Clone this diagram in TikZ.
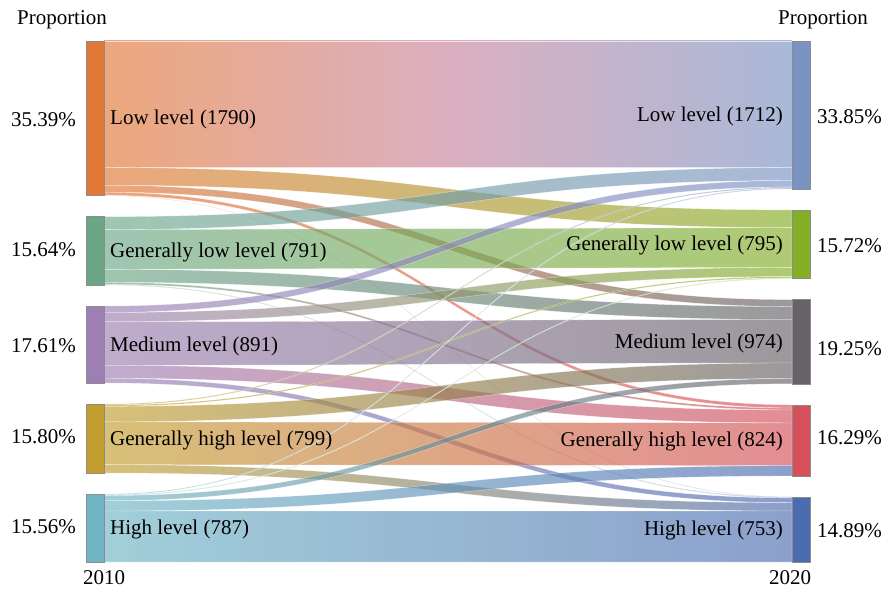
\documentclass[tikz,border=0pt]{standalone}
\usepackage{fontspec}
\setmainfont{Liberation Serif}
\definecolor{cLa}{HTML}{E27836}
\definecolor{cGLa}{HTML}{6BA787}
\definecolor{cMa}{HTML}{9D7FB3}
\definecolor{cGHa}{HTML}{C29E2E}
\definecolor{cHa}{HTML}{6FB5C4}
\definecolor{cLb}{HTML}{7A93C3}
\definecolor{cGLb}{HTML}{84AE26}
\definecolor{cMb}{HTML}{666267}
\definecolor{cGHb}{HTML}{D5505A}
\definecolor{cHb}{HTML}{4D6CB0}
\definecolor{cLmid}{HTML}{C8849E}
\newcommand{\flowband}[6]{%
  \shadedraw[flowsty, left color=#5, right color=#6]
    (104,#1) .. controls (448,#1) and (448,#3) .. (792,#3)
    -- (792,#4) .. controls (448,#4) and (448,#2) .. (104,#2) -- cycle;}
\newcommand{\flowbandmid}[7]{%
  \shadedraw[flowsty, left color=#5, right color=#6, middle color=#7]
    (104,#1) .. controls (448,#1) and (448,#3) .. (792,#3)
    -- (792,#4) .. controls (448,#4) and (448,#2) .. (104,#2) -- cycle;}
\begin{document}
\begin{tikzpicture}[x=1pt,y=-1pt,
  flowsty/.style={opacity=0.65, draw=white, line width=0.3pt},
  barsty/.style={draw=black!45, line width=0.4pt, inner sep=0pt, outer sep=0pt, anchor=north west},
  txt/.style={font=\fontsize{21}{25}\selectfont, inner sep=0pt, text=black}]
\useasboundingbox (0,0) rectangle (886,591);
% flows from Low level
\flowbandmid{41}{167.58}{41}{167.58}{cLa}{cLb}{cLmid}
\flowband{167.58}{185.29}{209.92}{227.63}{cLa}{cGLb}
\flowband{185.29}{192.20}{299.61}{306.52}{cLa}{cMb}
\flowband{192.20}{195.40}{404.76}{407.96}{cLa}{cGHb}
\flowband{195.40}{195.66}{496.95}{497.21}{cLa}{cHb}
% flows from Generally low level
\flowband{216.66}{229.62}{167.58}{180.54}{cGLa}{cLb}
\flowband{229.62}{269.36}{227.63}{267.37}{cGLa}{cGLb}
\flowband{269.36}{282.32}{306.52}{319.48}{cGLa}{cMb}
\flowband{282.32}{284.31}{407.96}{409.95}{cGLa}{cGHb}
\flowband{284.31}{285.00}{497.21}{497.90}{cGLa}{cHb}
% flows from Medium level
\flowband{306.00}{312.48}{180.54}{187.02}{cMa}{cLb}
\flowband{312.48}{321.72}{267.37}{276.61}{cMa}{cGLb}
\flowband{321.72}{365.27}{319.48}{363.03}{cMa}{cMb}
\flowband{365.27}{378.23}{409.95}{422.91}{cMa}{cGHb}
\flowband{378.23}{382.98}{497.90}{502.65}{cMa}{cHb}
% flows from Generally high level
\flowband{403.98}{405.02}{187.02}{188.06}{cGHa}{cLb}
\flowband{405.02}{406.32}{276.61}{277.91}{cGHa}{cGLb}
\flowband{406.32}{421.87}{363.03}{378.58}{cGHa}{cMb}
\flowband{421.87}{464.64}{422.91}{465.68}{cGHa}{cGHb}
\flowband{464.64}{473.02}{502.65}{511.03}{cGHa}{cHb}
% flows from High level
\flowband{494.01}{494.87}{188.06}{188.92}{cHa}{cLb}
\flowband{494.87}{495.56}{277.91}{278.60}{cHa}{cGLb}
\flowband{495.56}{500.74}{378.58}{383.76}{cHa}{cMb}
\flowband{500.74}{511.02}{465.68}{475.96}{cHa}{cHb}
\flowband{511.02}{562.00}{511.03}{562.00}{cHa}{cHb}
% bars 2010
\node[barsty, fill=cLa,  minimum width=18pt, minimum height=154.66pt] (L1)  at (86,41) {};
\node[barsty, fill=cGLa, minimum width=18pt, minimum height=68.34pt]  (GL1) at (86,216.66) {};
\node[barsty, fill=cMa,  minimum width=18pt, minimum height=76.98pt]  (M1)  at (86,306.00) {};
\node[barsty, fill=cGHa, minimum width=18pt, minimum height=69.03pt]  (GH1) at (86,403.98) {};
\node[barsty, fill=cHa,  minimum width=18pt, minimum height=67.99pt]  (H1)  at (86,494.01) {};
% bars 2020
\node[barsty, fill=cLb,  minimum width=18.5pt, minimum height=147.92pt] (L2)  at (792,41) {};
\node[barsty, fill=cGLb, minimum width=18.5pt, minimum height=68.69pt]  (GL2) at (792,209.92) {};
\node[barsty, fill=cMb,  minimum width=18.5pt, minimum height=84.15pt]  (M2)  at (792,299.61) {};
\node[barsty, fill=cGHb, minimum width=18.5pt, minimum height=71.20pt]  (GH2) at (792,404.76) {};
\node[barsty, fill=cHb,  minimum width=18.5pt, minimum height=65.05pt]  (H2)  at (792,496.95) {};
% labels 2010
\node[txt, anchor=west] (tL1)  at ([xshift=6pt,yshift=-1.5pt]L1.east)  {Low level (1790)};
\node[txt, anchor=west] (tGL1) at ([xshift=6pt,yshift=-1.5pt]GL1.east) {Generally low level (791)};
\node[txt, anchor=west] (tM1)  at ([xshift=6pt,yshift=-1.5pt]M1.east)  {Medium level (891)};
\node[txt, anchor=west] (tGH1) at ([xshift=6pt,yshift=-1.5pt]GH1.east) {Generally high level (799)};
\node[txt, anchor=west] (tH1)  at ([xshift=6pt,yshift=-1.5pt]H1.east)  {High level (787)};
% labels 2020
\node[txt, anchor=east] (tL2)  at ([xshift=-9pt,yshift=-1.5pt]L2.west)  {Low level (1712)};
\node[txt, anchor=east] (tGL2) at ([xshift=-9pt,yshift=-1.5pt]GL2.west) {Generally low level (795)};
\node[txt, anchor=east] (tM2)  at ([xshift=-9pt,yshift=-1.5pt]M2.west)  {Medium level (974)};
\node[txt, anchor=east] (tGH2) at ([xshift=-9pt,yshift=-1.5pt]GH2.west) {Generally high level (824)};
\node[txt, anchor=east] (tH2)  at ([xshift=-9pt,yshift=-1.5pt]H2.west)  {High level (753)};
% percentages 2010
\node[txt, anchor=east] (pL1)  at ([xshift=-10pt,yshift=-1.5pt]L1.west)  {35.39\%};
\node[txt, anchor=east] (pGL1) at ([xshift=-10pt,yshift=1pt]GL1.west) {15.64\%};
\node[txt, anchor=east] (pM1)  at ([xshift=-10pt,yshift=-1.5pt]M1.west)  {17.61\%};
\node[txt, anchor=east] (pGH1) at ([xshift=-10pt,yshift=2pt]GH1.west) {15.80\%};
\node[txt, anchor=east] (pH1)  at ([xshift=-10pt,yshift=1.5pt]H1.west)  {15.56\%};
% percentages 2020
\node[txt, anchor=west] (pL2)  at ([xshift=6.5pt,yshift=-1.5pt]L2.east)  {33.85\%};
\node[txt, anchor=west] (pGL2) at ([xshift=6.5pt,yshift=-1.5pt]GL2.east) {15.72\%};
\node[txt, anchor=west] (pM2)  at ([xshift=6.5pt,yshift=-7pt]M2.east)  {19.25\%};
\node[txt, anchor=west] (pGH2) at ([xshift=6.5pt,yshift=3pt]GH2.east) {16.29\%};
\node[txt, anchor=west] (pH2)  at ([xshift=6.5pt,yshift=-1.5pt]H2.east)  {14.89\%};
% headers and years
\node[txt] (propL) at (62,20) {Proportion};
\node[txt] (propR) at (823,20) {Proportion};
\node[txt] (yearA) at (104,578) {2010};
\node[txt] (yearB) at (790,578) {2020};
\end{tikzpicture}
\end{document}
